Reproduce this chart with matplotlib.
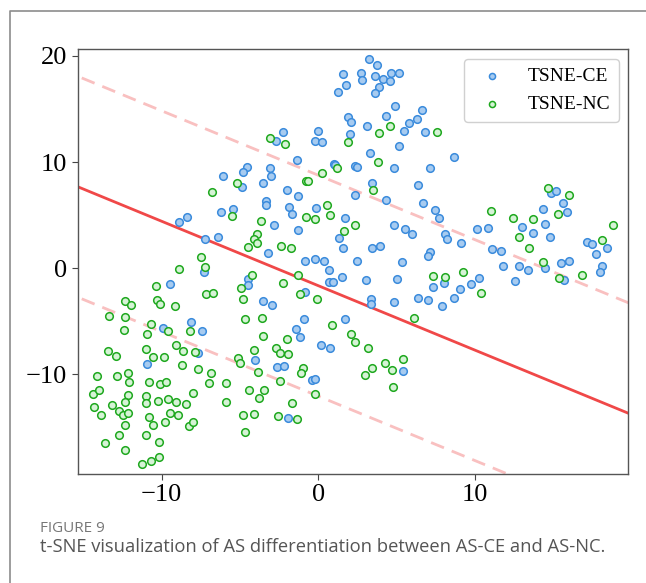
import numpy as np
import matplotlib
matplotlib.use("Agg")
from matplotlib import pyplot as plt

# t-SNE embedding, class AS-CE (blue)
ce_x = [-4.57, -4.83, -6.06, -4.89, -6.23, -5.43, -8.36, -8.91, -7.23, -6.43,
        3.26, 3.74, 1.57, 2.70, 2.79, 3.64, 4.11, 4.57, 4.64, 5.17, 3.87, 3.60, 1.74, 1.26,
        4.91, 6.64, 4.34, 6.32, 5.79, 1.87, 2.06, 3.13, 5.47, 6.81, 2.00, -0.02, -0.21, 0.21,
        -2.23, -2.68, 5.17, 3.30, -1.38, 1.00, 1.09, 2.32, 2.45, 4.83, 7.13, -3.06, -3.04,
        -3.51, 3.43, 6.38, -2.00, -1.30, 2.36, 4.34, -3.36, -3.34, -1.89, -1.70, -0.13, 6.66,
        7.43, 7.70, 1.70, -2.83, 4.81, 5.53, 6.00, -1.32, 1.30, 1.57, 3.45, 3.94, -3.19, 7.13,
        6.98,
        8.68, 14.85, 15.17, 15.64, 15.87, 14.34, 14.47, 12.98, 13.70, 14.81, 10.15, 10.85,
        8.06, 8.23, 9.13, 11.06, 11.68, 17.15, 17.45, 17.74, 18.40,
        -7.30, -9.45, -8.11, -7.45, -9.89, -7.66, -10.91, -4.51, -4.47,
        -0.83, -0.23, 0.36, 2.45, 5.34, 0.68, 0.68, 0.96, 1.49, 3.06, 5.00, 3.36, 3.34, 4.83,
        6.38, 6.98, 7.87, 7.30, -0.83, -3.55, -2.98, -0.89, -1.40, -1.17, 1.72, 0.17, 0.77,
        -4.04, -2.62, -2.19, -0.38, -0.21, 5.38, -1.91,
        11.81, 12.83, 13.38, 14.47, 15.47, 16.00, 18.09, 17.98, 8.02, 10.23, 9.72, 9.04, 8.66,
        12.57, 15.70]
ce_y = [9.57, 9.10, 8.66, 7.69, 5.34, 5.59, 4.83, 4.36, 2.73, 2.92,
        19.68, 19.11, 18.30, 18.39, 17.77, 18.08, 17.86, 17.61, 18.39, 18.39, 17.07, 16.54,
        17.26, 16.64, 15.29, 14.88, 14.34, 14.06, 13.72, 14.22, 13.81, 13.40, 12.93, 12.84,
        12.68, 12.96, 11.99, 11.86, 12.81, 11.96, 11.52, 10.89, 10.23, 9.82, 9.76, 9.64, 9.51,
        9.42, 9.42, 9.48, 8.73, 8.04, 8.07, 7.85, 7.38, 6.84, 6.87, 6.40, 6.31, 5.93, 5.74,
        5.12, 5.71, 6.18, 5.46, 4.74, 4.71, 4.08, 4.11, 3.67, 3.20, 3.61, 2.82, 1.91, 1.95,
        2.07, 1.48, 1.57, 1.19,
        10.45, 7.12, 7.31, 6.18, 5.34, 5.56, 4.14, 3.86, 3.36, 2.92, 3.74, 3.83,
        3.20, 2.76, 2.39, 1.85, 1.63, 2.51, 2.29, 1.32, 1.91,
        -0.35, -1.48, -5.02, -5.93, -5.62, -8.00, -8.98, -1.00, -1.54,
        0.66, 0.91, 0.66, 0.66, 0.60, -0.19, -1.29, -1.29, -0.85, -1.13, -1.00, -2.86, -3.33,
        -3.20, -2.82, -2.95, -3.58, -1.79, -2.23, -3.11, -3.42, -4.80, -5.74, -6.47, -4.80,
        -7.19, -7.47, -8.66, -9.29, -9.20, -10.55, -10.39, -9.67, -14.09,
        0.19, 0.19, -0.13, 0.03, 0.50, 0.72, 0.19, -0.35, -1.38, -0.91, -1.48, -1.91, -2.79,
        -1.16, -1.10]

# t-SNE embedding, class AS-NC (green)
nc_x = [-5.21, -6.81, -5.49, -4.51, -7.49,
        -3.06, -2.15, 3.87, 4.55, 7.60, 1.87, 3.79, 0.23, 1.21, -0.79, -0.64, 3.49, 0.57,
        0.74, -0.81, -0.21, 2.32, 1.66, -3.66, -3.94, -4.11, -3.89, -2.40, -1.72,
        14.64, 15.98, 15.30, 11.02, 12.45, 13.68, 12.79, 13.45, 18.09, 18.83,
        14.36, 8.06, 9.21, 10.40, 15.34, 16.81,
        -1.28, -2.26, -1.15, -0.09, -3.57, -3.53, 0.85, 2.06, 2.32, 3.15, -4.11, -2.72, -2.47,
        -1.96, -2.00, -3.87, -0.96, -1.11, -2.47, -3.49, -3.77, -0.23, -1.68, -4.13, -2.60,
        -1.36, 4.26, 3.45, 2.96, 4.68, 5.43, 4.74, 6.13, 7.30,
        -7.23, -8.89, -10.38, -10.28, -10.11, -9.15, -7.19, -6.70, -4.96, -4.83, -4.68, -4.26,
        -12.32, -11.96, -13.36, -12.32, -12.38, -10.68, -10.91, -9.57, -8.21, -11.00, -10.55,
        -9.85, -9.09, -8.64, -7.85, -8.68, -7.70, -6.87, -6.98, -5.91, -5.91, -5.11, -5.00,
        -13.45, -12.94, -14.11, -12.87, -12.17, -12.11, -14.36, -14.00, -12.17, -12.32,
        -14.32, -13.85, -13.19, -12.70, -12.45, -12.17, -12.32, -12.70, -13.64, -12.34,
        -10.83, -10.11, -9.70, -11.00, -10.98, -10.23, -9.60, -9.06, -8.45, -8.00, -10.83,
        -10.55, -9.79, -9.47, -8.94, -8.26, -8.00, -11.00, -10.15, -11.26, -10.66, -10.19,
        -4.83, -4.66, -4.40]
nc_y = [8.07, 7.22, 4.93, 1.98, 1.10,
        12.30, 11.68, 12.77, 13.40, 12.81, 11.90, 9.98, 8.98, 9.42, 8.25, 8.25, 7.41, 5.96,
        4.99, 4.80, 4.65, 4.05, 3.52, 4.46, 3.23, 2.73, 2.35, 2.13, 1.88,
        7.60, 6.87, 5.15, 5.40, 4.71, 4.61, 2.95, 1.95, 2.67, 4.08,
        0.60, -0.82, -0.35, -2.32, -0.88, -0.66,
        -0.60, -1.38, -2.39, -2.92, -4.68, -6.37, -5.37, -6.21, -6.94, -7.53, -7.72, -7.53,
        -7.97, -8.04, -6.69, -9.73, -9.35, -9.89, -10.61, -11.46, -12.21, -11.80, -12.68,
        -13.75, -13.94, -14.16, -8.88, -9.42, -10.01, -9.60, -8.51, -11.21, -4.65, -0.69,
        0.09, -0.06, -1.69, -2.95, -3.39, -3.58, -2.42, -2.29, -1.85, -2.89, -4.77, -0.66,
        -3.11, -3.42, -4.52, -4.58, -5.84, -5.21, -6.18, -5.87, -5.93, -7.56, -8.35, -8.32,
        -7.25, -7.78, -7.88, -9.13, -9.51, -9.86, -10.83, -10.83, -12.62, -8.44, -8.95,
        -7.75, -8.22, -10.11, -10.14, -9.89, -10.70, -11.83, -11.49, -11.90, -12.59,
        -13.06, -13.78, -12.84, -13.47, -13.84, -13.65, -14.72, -15.69, -16.48, -17.11,
        -10.73, -10.86, -10.67, -12.02, -12.68, -12.52, -12.27, -12.59, -12.77, -11.71,
        -13.97, -14.72, -14.50, -13.65, -13.84, -14.81, -14.44, -15.69, -16.35, -18.42,
        -18.17, -17.77, -13.84, -15.44, -11.46]

# separating line y = slope*x + intercept, margins +/- margin
slope = -0.607
intercept = -1.64
margin = 10.4

x_ticks = [-10, 0, 10]
y_ticks = [-10, 0, 10, 20]

fig = plt.figure(figsize=(6.46, 5.83), dpi=100)

# panel border (top and left edges visible)
fig.add_artist(plt.Line2D([10 / 646, 10 / 646, 1.01], [-0.01, 1 - 11 / 583, 1 - 11 / 583],
                          color='#8c8c8c', lw=1.2, transform=fig.transFigure))

ax = fig.add_axes([77.5 / 646, 1 - 474 / 583, (628.3 - 77.5) / 646, (474 - 49) / 583])

ax.scatter(ce_x, ce_y, s=30, facecolor='#a7cbf0', edgecolor='#3a8bdc', linewidth=1.1,
           label='TSNE-CE', zorder=3)
ax.scatter(nc_x, nc_y, s=30, facecolor='#d6f3d6', edgecolor='#1ea81e', linewidth=1.1,
           label='TSNE-NC', zorder=3)

xlim = (-15.37, 19.78)
xx = np.array(xlim)
ax.plot(xx, slope * xx + intercept, color='#f04848', lw=2.0, zorder=2)
xd = np.array([-15.1, xlim[1]])
ax.plot(xd, slope * xd + intercept + margin, color='#f9c0c0', lw=2.0, ls=(0, (5, 3)), zorder=2)
ax.plot(xd, slope * xd + intercept - margin, color='#f9c0c0', lw=2.0, ls=(0, (5, 3)), zorder=2)

ax.set_xlim(xlim)
ax.set_ylim(-19.37, 20.65)
ax.set_xticks(x_ticks)
ax.set_yticks(y_ticks)
ax.tick_params(labelsize=19, length=4, color='#444444')
for lab in ax.get_xticklabels() + ax.get_yticklabels():
    lab.set_fontfamily('Liberation Serif')
for sp in ax.spines.values():
    sp.set_color('#555555')
    sp.set_linewidth(1.0)

leg = ax.legend(loc='upper right', prop={'family': 'Liberation Serif', 'size': 14},
                markerscale=0.8, handletextpad=0.8, borderpad=0.45, labelspacing=0.55,
                fancybox=True, edgecolor='#d0d0d0', framealpha=1)

fig.text(40 / 646, 1 - 529 / 583, 'FIGURE 9', fontsize=11, color='#777777',
         family='Open Sans', va='center')
fig.text(40 / 646, 1 - 547 / 583,
         't-SNE visualization of AS differentiation between AS-CE and AS-NC.',
         fontsize=13.25, color='#555555', family='Open Sans', va='center')

fig.savefig('out.png', dpi=100)
